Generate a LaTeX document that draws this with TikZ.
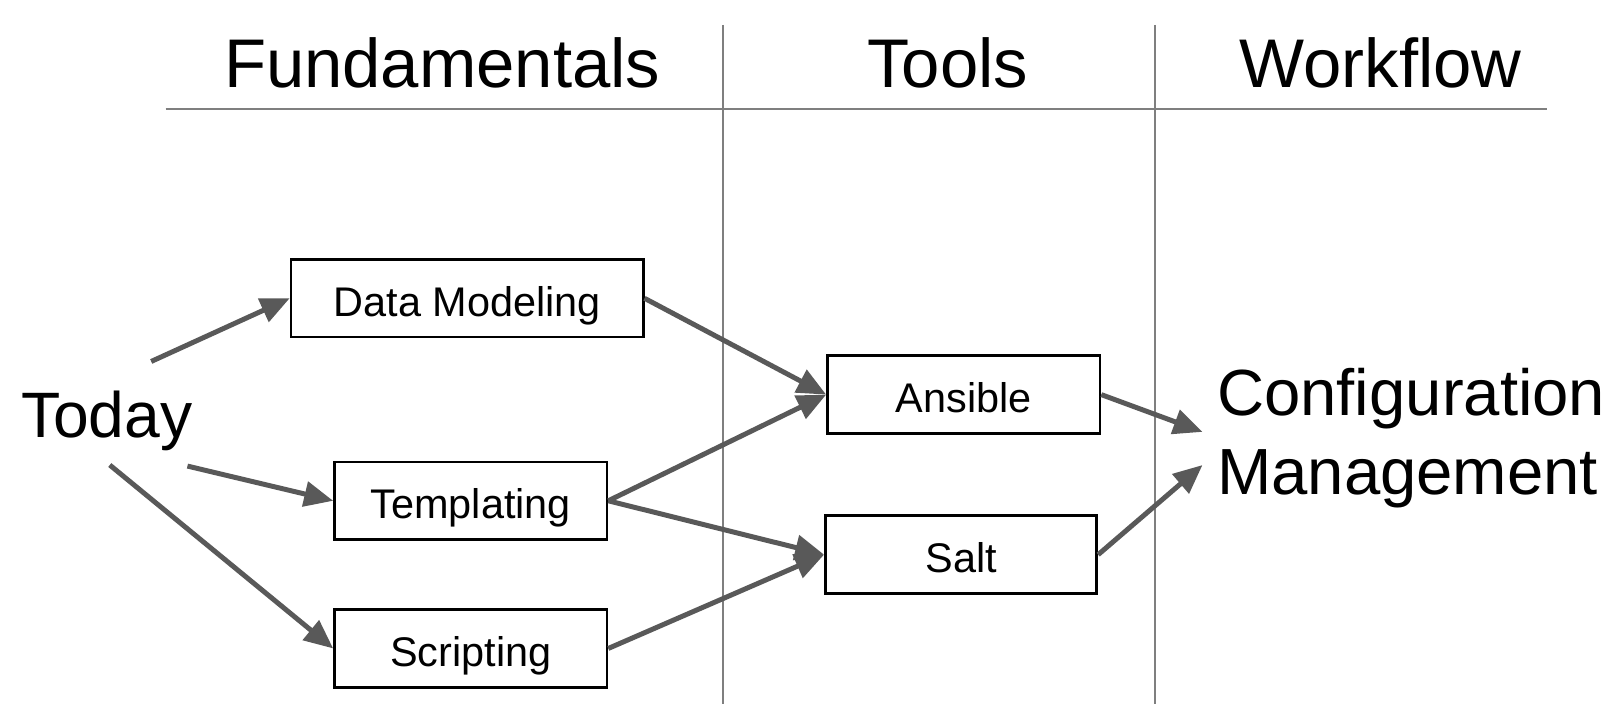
\documentclass[tikz,border=0pt]{standalone}
\usepackage{fontspec}
\setmainfont{Liberation Sans}
\usetikzlibrary{arrows.meta,positioning}
\definecolor{arrowgray}{HTML}{595959}
\definecolor{linegray}{HTML}{7F7F7F}
\tikzset{>={Triangle[width=24pt,length=28pt]}}
\tikzset{topic/.style={shape=rectangle, draw=black, line width=2.6pt, fill=white,
    font=\fontsize{40}{47}\selectfont, minimum height=75pt, inner sep=0pt,
    text height=35pt, text depth=0pt}}
\tikzset{flow/.style={->, draw=arrowgray, fill=arrowgray, line width=4.8pt}}
\tikzset{head/.style={font=\fontsize{66.5}{80}\selectfont, anchor=base, inner sep=0pt}}
\tikzset{big/.style={font=\fontsize{62}{76.5}\selectfont, inner sep=0pt}}

\begin{document}
\begin{tikzpicture}[x=1pt, y=-1pt]
  \useasboundingbox (0,0) rectangle (1568,680);

    %%%% Columns
    \draw[draw=linegray, line width=1.5pt] (698,24) -- (698,680);
    \draw[draw=linegray, line width=1.5pt] (1115,24) -- (1115,680);
    \draw[draw=linegray, line width=2pt] (160,105) -- (1494,105);
    \node[head](fund)  at (427,84)  {Fundamentals};
    \node[head](tools) at (915,84)  {Tools};
    \node[head](work)  at (1333,84) {Workflow};

    %%%% Steps
    \node[big](today) at (103,406) {Today};
    \node[topic, minimum width=340pt](dm)  at (451,288) {Data Modeling};
    \node[topic, minimum width=263pt](tpl) at (454.5,483.5)  {Templating};
    \node[topic, minimum width=263pt](scr) [below=65pt of tpl] {Scripting};
    \node[topic, minimum width=263pt](ans)  at (930.5,381) {Ansible};
    \node[topic, minimum width=262pt](salt) at (928,535.5) {Salt};
    \node[big, font=\fontsize{63}{76.5}\selectfont, align=left, anchor=west,
      inner sep=14pt](cfg) at (1161,423) {Configuration\\Management};

    \coordinate (tup)  at ([shift={(43pt,57pt)}]today.center);
    \coordinate (tmid) at ([shift={(78pt,-44pt)}]today.center);
    \coordinate (tlow) at ([shift={(3pt,-43pt)}]today.center);

    %%%% Arrows
    \draw [flow] (tup) -- (dm.west);
    \draw [flow] (tmid) -- (tpl.west);
    \draw [flow] (tlow) -- (scr.west);
    \draw [flow] (dm.east) -- (ans.west);
    \draw [flow] (tpl.east) -- (ans.west);
    \draw [flow] (tpl.east) -- (salt.west);
    \draw [flow] (scr.east) -- (salt.west);
    \draw [flow] (ans.east) -- ([yshift=6pt]cfg.west);
    \draw [flow] (salt.east) -- ([yshift=-26pt]cfg.west);

\end{tikzpicture}
\end{document}
